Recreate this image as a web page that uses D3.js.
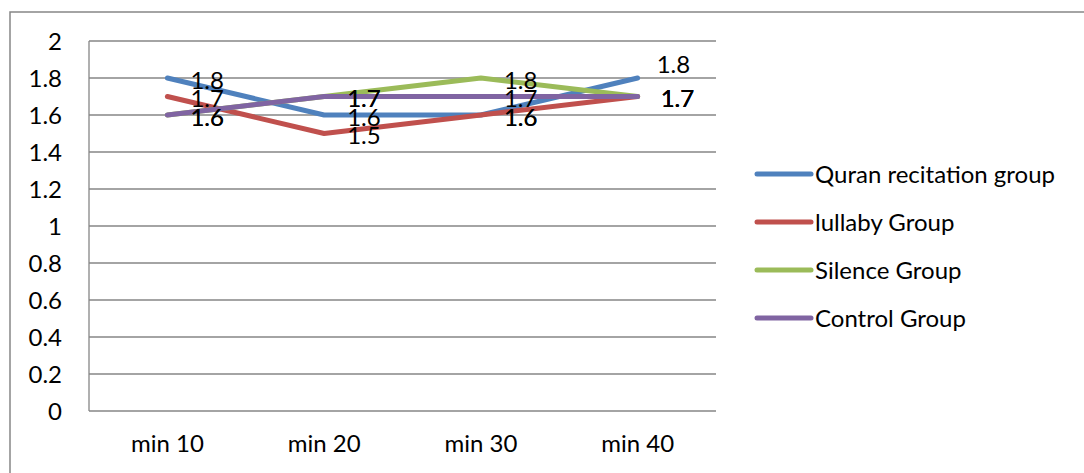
<!DOCTYPE html>
<html><head><meta charset="utf-8">
<script src="https://cdn.jsdelivr.net/npm/d3@7"></script>
<style>body{margin:0;background:#fff}svg{display:block}text{font-family:Lato,"Liberation Sans",sans-serif;fill:#000}</style>
</head><body><svg id="c" width="1084" height="473"></svg>
<script>
const categories = ["min 10", "min 20", "min 30", "min 40"];
const seriesNames = ["Quran recitation group", "lullaby Group", "Silence Group", "Control Group"];
const quran = [1.8, 1.6, 1.6, 1.8];
const lullaby = [1.7, 1.5, 1.6, 1.7];
const silence = [1.6, 1.7, 1.8, 1.7];
const control = [1.6, 1.7, 1.7, 1.7];
const yTicks = [0, 0.2, 0.4, 0.6, 0.8, 1, 1.2, 1.4, 1.6, 1.8, 2];
const colors = ["#4F81BD", "#C0504D", "#9BBB59", "#8064A2"];

const series = [quran, lullaby, silence, control].map((v, i) => ({name: seriesNames[i], values: v, color: colors[i]}));

const FS = 24;
const svg = d3.select("#c");
const m = {left: 89, top: 41, right: 716, bottom: 411};

// outer frame
svg.append("path").attr("d", "M10,473 V12 H1084").attr("fill", "none").attr("stroke", "#868686").attr("stroke-width", 1.5);

const x = d3.scaleBand().domain(categories).range([m.left, m.right]);
const y = d3.scaleLinear().domain([0, 2]).range([m.bottom, m.top]);

// gridlines
svg.append("g").selectAll("line").data(yTicks).join("line")
  .attr("x1", m.left).attr("x2", m.right)
  .attr("y1", d => y(d)).attr("y2", d => y(d))
  .attr("stroke", "#868686").attr("stroke-width", 1.3);
svg.append("line").attr("x1", m.left).attr("x2", m.left).attr("y1", m.top).attr("y2", m.bottom)
  .attr("stroke", "#868686").attr("stroke-width", 1.3);

// y axis labels
const yAxis = d3.axisLeft(y).tickValues(yTicks).tickSize(0).tickPadding(27).tickFormat(d3.format("~g"));
const ga = svg.append("g").attr("transform", `translate(${m.left},0)`).call(yAxis);
ga.select(".domain").remove();
ga.selectAll("text").attr("font-size", FS).attr("font-family", "Lato").attr("fill", "#000").attr("dy", "0.34em");

// x axis labels
const xAxis = d3.axisBottom(x).tickSize(0).tickPadding(24);
const gx = svg.append("g").attr("transform", `translate(0,${m.bottom})`).call(xAxis);
gx.select(".domain").remove();
gx.selectAll("text").attr("font-size", FS).attr("font-family", "Lato").attr("fill", "#000");

// lines
const line = d3.line().x((d, i) => x(categories[i]) + x.bandwidth() / 2).y(d => y(d));
svg.append("g").selectAll("path").data(series).join("path")
  .attr("d", d => line(d.values)).attr("fill", "none")
  .attr("stroke", d => d.color).attr("stroke-width", 5).attr("stroke-linecap", "round").attr("stroke-linejoin", "round");

// data labels
const nudge = {"0-3": [-4, -16]};
const lg = svg.append("g");
series.forEach((s, si) => {
  s.values.forEach((v, i) => {
    const n = nudge[si + "-" + i] || [0, 0];
    lg.append("text")
      .attr("x", x(categories[i]) + x.bandwidth() / 2 + 23 + n[0])
      .attr("y", y(v) + 2 + n[1])
      .attr("dy", "0.36em")
      .attr("font-size", FS)
      .text(d3.format(".1f")(v));
  });
});

// legend
const leg = svg.append("g").selectAll("g").data(series).join("g")
  .attr("transform", (d, i) => `translate(757,${174 + i * 48})`);
leg.append("line").attr("x1", 0).attr("x2", 54).attr("y1", 0).attr("y2", 0)
  .attr("stroke", d => d.color).attr("stroke-width", 5).attr("stroke-linecap", "round");
leg.append("text").attr("x", 58).attr("y", 0).attr("dy", "0.36em").attr("font-size", FS).text(d => d.name);
</script></body></html>
